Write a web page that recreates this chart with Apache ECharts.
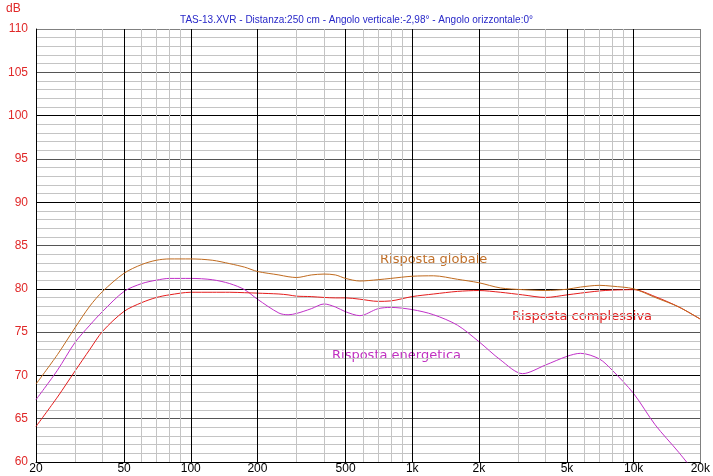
<!DOCTYPE html>
<html>
<head>
<meta charset="utf-8">
<script src="https://cdn.jsdelivr.net/npm/echarts@6/dist/echarts.min.js"></script>
<style>
  html, body { margin: 0; padding: 0; background: #fff; }
  #chart { width: 713px; height: 476px; }
</style>
</head>
<body>
<div id="chart"></div>
<script>
// frequenze (Hz) e curve
var freqs = [20, 25, 30, 35, 40, 50, 60, 70, 80, 100, 125, 150, 175, 200, 250, 275, 300, 350, 400, 450, 500, 580, 700, 800, 1000, 1250, 1600, 2000, 2500, 3150, 4000, 5000, 5750, 7000, 8000, 10000, 12500, 16000, 20000];

var globale = [69.0, 72.4, 75.5, 78.0, 79.7, 81.8, 82.8, 83.3, 83.45, 83.45, 83.3, 82.9, 82.5, 82.0, 81.6, 81.4, 81.3, 81.6, 81.7, 81.6, 81.2, 80.9, 81.05, 81.2, 81.45, 81.5, 81.1, 80.7, 80.1, 79.9, 79.8, 79.95, 80.2, 80.4, 80.3, 80.0, 79.0, 77.9, 76.5];

var complessiva = [64.1, 67.5, 70.5, 73.0, 75.1, 77.4, 78.4, 79.0, 79.3, 79.6, 79.6, 79.6, 79.55, 79.5, 79.4, 79.3, 79.15, 79.1, 79.0, 78.95, 78.95, 78.8, 78.55, 78.6, 79.1, 79.4, 79.7, 79.8, 79.6, 79.3, 79.0, 79.3, 79.5, 79.75, 79.85, 79.9, 79.1, 77.9, 76.5];

var energetica = [67.2, 70.6, 73.8, 75.8, 77.4, 79.7, 80.6, 81.0, 81.2, 81.2, 81.05, 80.6, 79.9, 78.8, 77.2, 77.0, 77.15, 77.7, 78.25, 77.9, 77.35, 76.9, 77.7, 77.85, 77.6, 77.0, 75.8, 73.9, 71.8, 70.2, 71.2, 72.2, 72.55, 71.9, 70.6, 67.9, 64.3, 61.1, 58.0];

// griglia verticale
var majorFreqs = [50, 100, 200, 500, 1000, 2000, 5000, 10000];
var minorFreqs = [30, 40, 60, 70, 80, 90, 300, 400, 600, 700, 800, 900, 3000, 4000, 6000, 7000, 8000, 9000];
var tickFreqs = [20, 50, 100, 200, 500, 1000, 2000, 5000, 10000, 20000];
var tickLabels = ['20', '50', '100', '200', '500', '1k', '2k', '5k', '10k', '20k'];

function pairs(vals) {
  return freqs.map(function (f, i) { return [f, vals[i]]; });
}

var gridLines = [];
minorFreqs.forEach(function (f) {
  gridLines.push({ xAxis: f, lineStyle: { color: '#c4c4c4', width: 1, type: 'solid' } });
});
majorFreqs.forEach(function (f) {
  gridLines.push({ xAxis: f, lineStyle: { color: '#000', width: 1, type: 'solid' } });
});
gridLines.push({ xAxis: 20000, lineStyle: { color: '#808080', width: 1, type: 'solid' } });

var myChart = echarts.init(document.getElementById('chart'));

var font = 'Liberation Sans, Arial, sans-serif';

var option = {
  animation: false,
  backgroundColor: '#fff',
  title: {
    text: 'TAS-13.XVR - Distanza:250 cm - Angolo verticale:-2,98° - Angolo orizzontale:0°',
    left: 'center',
    top: 10,
    textStyle: { color: '#2828c8', fontSize: 10, fontWeight: 'normal', fontFamily: font }
  },
  grid: { left: 36, right: 10, top: 29, bottom: 14 },
  xAxis: {
    type: 'log',
    logBase: 10,
    min: 20,
    max: 20000,
    axisLine: { show: true, onZero: false, lineStyle: { color: '#000', width: 1 } },
    axisTick: { show: false },
    splitLine: { show: false },
    axisLabel: {
      show: true,
      customValues: tickFreqs,
      formatter: function (v) {
        var i = tickFreqs.indexOf(Math.round(v));
        return i >= 0 ? tickLabels[i] : '';
      },
      color: '#000',
      fontSize: 12,
      fontFamily: font,
      margin: 1,
      showMinLabel: true,
      showMaxLabel: true
    }
  },
  yAxis: {
    type: 'value',
    min: 60,
    max: 110,
    interval: 5,
    axisLine: { show: true, lineStyle: { color: '#000', width: 1 } },
    axisTick: { show: false },
    axisLabel: { color: '#e02828', fontSize: 12, fontFamily: font, margin: 8 },
    splitLine: {
      show: true,
      lineStyle: { color: ['#000', '#555', '#000', '#555', '#000', '#555', '#000', '#555', '#000', '#555', '#808080'], width: 1 }
    },
    minorTick: { show: true, splitNumber: 5, length: 0 },
    minorSplitLine: { show: true, lineStyle: { color: '#c4c4c4', width: 1 } }
  },
  graphic: [
    { type: 'text', left: 6, top: 3, style: { text: 'dB', fill: '#e02828', font: '12px ' + font } },
    { type: 'text', left: 380, top: 253, style: { text: 'Risposta globale', fill: '#c0702a', font: '13px "DejaVu Sans"' } },
    { type: 'text', left: 512, top: 310, style: { text: 'Risposta complessiva', fill: '#e02020', font: '13px "DejaVu Sans"' } },
    { type: 'text', left: 332, top: 349, style: { text: 'Risposta energetica', fill: '#c030c0', font: '13px "DejaVu Sans"' } }
  ],
  series: [
    {
      name: 'griglia',
      type: 'line',
      data: [],
      silent: true,
      markLine: { silent: true, symbol: 'none', label: { show: false }, data: gridLines, animation: false }
    },
    {
      name: 'Risposta energetica',
      type: 'line',
      data: pairs(energetica),
      smooth: 0.3,
      showSymbol: false,
      clip: true,
      lineStyle: { color: '#c030c8', width: 1 },
      z: 3
    },
    {
      name: 'Risposta complessiva',
      type: 'line',
      data: pairs(complessiva),
      smooth: 0.3,
      showSymbol: false,
      clip: true,
      lineStyle: { color: '#e41c1c', width: 1 },
      z: 4
    },
    {
      name: 'Risposta globale',
      type: 'line',
      data: pairs(globale),
      smooth: 0.3,
      showSymbol: false,
      clip: true,
      lineStyle: { color: '#c06a1e', width: 1 },
      z: 5
    }
  ]
};

myChart.setOption(option);
</script>
</body>
</html>
